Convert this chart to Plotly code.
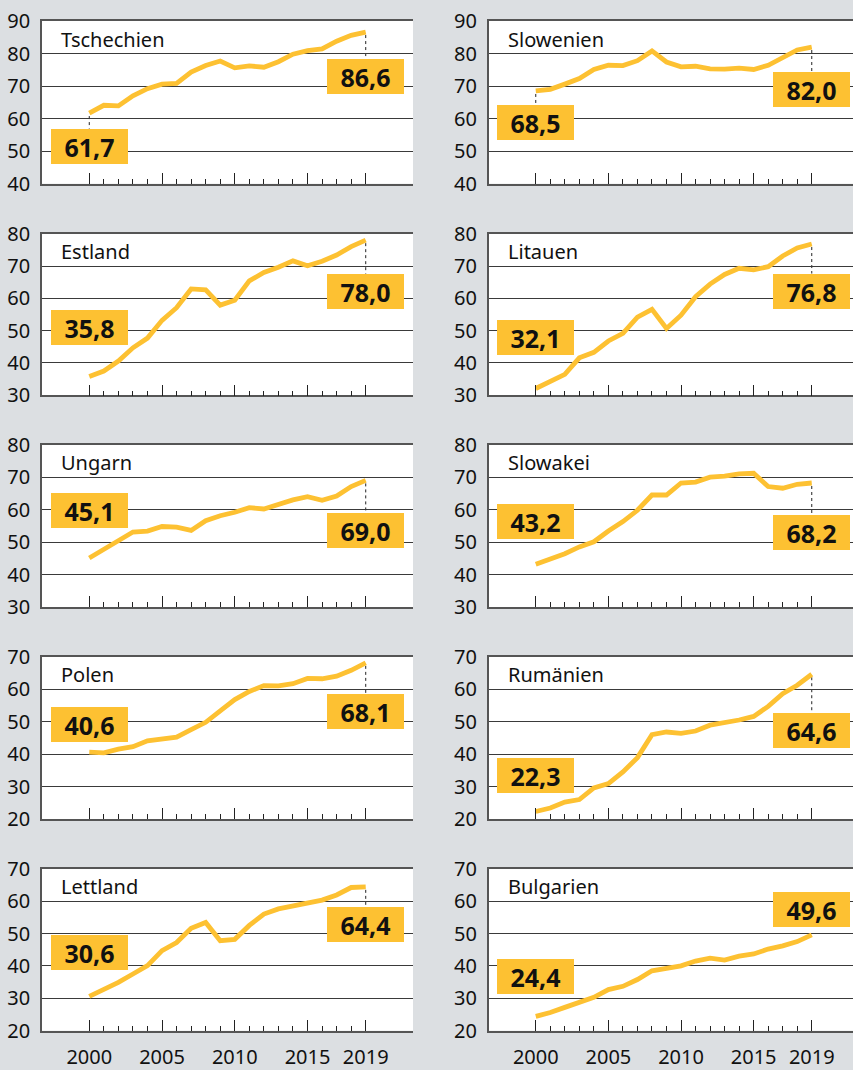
import plotly.graph_objects as go
from plotly.subplots import make_subplots

years = list(range(2000, 2020))

countries = ["Tschechien", "Slowenien", "Estland", "Litauen", "Ungarn",
             "Slowakei", "Polen", "Rumänien", "Lettland", "Bulgarien"]

tschechien = [61.7, 64.1, 63.9, 67.0, 69.2, 70.6, 70.8, 74.3, 76.3, 77.7, 75.6, 76.2, 75.8, 77.5, 79.8, 80.9, 81.4, 83.8, 85.6, 86.6]
slowenien = [68.5, 69.0, 70.6, 72.3, 75.1, 76.4, 76.3, 77.8, 80.8, 77.4, 75.9, 76.1, 75.3, 75.2, 75.5, 75.1, 76.4, 78.7, 81.1, 82.0]
estland = [35.8, 37.5, 40.6, 44.7, 47.7, 53.2, 57.1, 62.9, 62.6, 57.9, 59.4, 65.4, 68.0, 69.6, 71.6, 70.1, 71.5, 73.4, 76.0, 78.0]
litauen = [32.1, 34.4, 36.5, 41.6, 43.3, 46.8, 49.2, 54.2, 56.6, 50.7, 54.8, 60.5, 64.4, 67.4, 69.3, 68.8, 69.8, 73.1, 75.6, 76.8]
ungarn = [45.1, 47.8, 50.6, 53.1, 53.4, 54.8, 54.6, 53.6, 56.6, 58.1, 59.2, 60.6, 60.2, 61.6, 63.0, 64.0, 62.9, 64.2, 67.1, 69.0]
slowakei = [43.2, 44.8, 46.4, 48.5, 50.1, 53.4, 56.3, 59.8, 64.5, 64.5, 68.2, 68.5, 70.0, 70.3, 71.0, 71.2, 67.1, 66.6, 67.8, 68.2]
polen = [40.6, 40.4, 41.5, 42.3, 44.1, 44.6, 45.2, 47.5, 49.8, 53.3, 56.8, 59.3, 61.1, 61.0, 61.7, 63.3, 63.2, 64.0, 65.8, 68.1]
rumaenien = [22.3, 23.4, 25.2, 26.0, 29.6, 30.9, 34.5, 38.9, 46.0, 46.8, 46.4, 47.1, 48.9, 49.6, 50.5, 51.6, 54.7, 58.6, 61.2, 64.6]
lettland = [30.6, 32.6, 34.9, 37.5, 40.1, 44.7, 47.2, 51.6, 53.4, 47.8, 48.2, 52.5, 56.0, 57.6, 58.5, 59.6, 60.3, 61.9, 64.2, 64.4]
bulgarien = [24.4, 25.6, 27.2, 28.8, 30.3, 32.7, 33.7, 35.8, 38.5, 39.2, 40.0, 41.5, 42.4, 41.8, 43.0, 43.7, 45.2, 46.2, 47.5, 49.6]

series = [tschechien, slowenien, estland, litauen, ungarn,
          slowakei, polen, rumaenien, lettland, bulgarien]

y_min = [40, 40, 30, 30, 30, 30, 20, 20, 20, 20]
y_max = [90, 90, 80, 80, 80, 80, 70, 70, 70, 70]

major_ticks = [2000, 2005, 2010, 2015, 2019]
minor_ticks = [y for y in years if y not in major_ticks]

# layout / style (pixel offsets of the value boxes relative to the points; + = up)
start_shift = [-33, -32, 49, 51, 47, 43, 28, 36, 44, 40]
end_shift = [-44, -42, -51, -47, -50, -49, -49, -56, -38, 25]

W, H = 853, 1070
BG = "#DCDFE2"
YEL = "#FDC132"
GRID = "#3A3A3A"
AXIS = "#555555"
FONT = "Noto Sans"

x_dom = [[42 / W, 413 / W], [488.7 / W, 1.0]]
x_rng = [[1996.75, 2022.25], [1996.76, 2021.84]]
row_px = [(21, 183.7), (233.7, 395.3), (444.7, 607.0), (656.7, 819.0), (868.7, 1030.7)]

fig = make_subplots(rows=5, cols=2)

BOX_W, BOX_H = 77, 35

for i, (name, vals) in enumerate(zip(countries, series)):
    r, c = i // 2 + 1, i % 2 + 1
    fig.add_trace(go.Scatter(x=years, y=vals, mode="lines",
                             line=dict(color=YEL, width=4.8),
                             hoverinfo="skip", showlegend=False),
                  row=r, col=c)
    ax = "" if i == 0 else str(i + 1)
    xa = "xaxis" + ax
    ya = "yaxis" + ax
    top, bot = row_px[r - 1]
    fig.layout[xa].update(
        domain=x_dom[c - 1], range=x_rng[c - 1], automargin=False,
        showgrid=False, zeroline=False,
        showline=True, linecolor=AXIS, linewidth=1.5, mirror=True,
        tickmode="array", tickvals=major_ticks,
        ticktext=[str(t) for t in major_ticks],
        ticks="inside", ticklen=11, tickwidth=1.3, tickcolor="#222",
        showticklabels=(r == 5), ticklabelstandoff=8,
        tickfont=dict(family=FONT, size=20, color="#111"),
        minor=dict(tickvals=minor_ticks, ticks="inside", ticklen=5,
                   tickwidth=1.3, tickcolor="#222", showgrid=False),
        fixedrange=True,
    )
    fig.layout[ya].update(
        domain=[1 - bot / H, 1 - top / H], range=[y_min[i], y_max[i]],
        automargin=False,
        dtick=10, tick0=0, showgrid=True, gridcolor=GRID, gridwidth=1,
        zeroline=False, showline=True, linecolor=AXIS, linewidth=1.5,
        ticks="", ticklabelstandoff=6,
        tickfont=dict(family=FONT, size=20, color="#111"),
        fixedrange=True,
    )
    xref = "x" + ax
    yref = "y" + ax
    # country name
    fig.add_annotation(x=0, y=1, xref=xref + " domain", yref=yref + " domain",
                       xanchor="left", yanchor="middle", xshift=17, yshift=-18,
                       text=name, showarrow=False,
                       font=dict(family=FONT, size=20, color="#111"))
    # value boxes
    for yr, v, sh in ((years[0], vals[0], start_shift[i]), (years[-1], vals[-1], end_shift[i])):
        fig.add_annotation(x=yr, y=v, xref=xref, yref=yref,
                           xanchor="center", yanchor="middle", yshift=sh,
                           text="<b>" + f"{v:.1f}".replace(".", ",") + "</b>",
                           showarrow=False, width=BOX_W, height=BOX_H,
                           bgcolor=YEL, borderpad=0, borderwidth=0,
                           align="center", valign="middle",
                           font=dict(family=FONT, size=25, color="#111"))
        if sh < 0:
            fig.add_shape(type="line", xref=xref, yref=yref,
                          ysizemode="pixel", yanchor=v,
                          x0=yr, x1=yr, y0=-3, y1=sh + BOX_H / 2,
                          line=dict(color="#222", width=1, dash="3px,3px"),
                          layer="below")

fig.update_layout(
    width=W, height=H, margin=dict(l=0, r=0, t=0, b=0, autoexpand=False),
    paper_bgcolor=BG, plot_bgcolor="white",
    font=dict(family=FONT, color="#111"),
    showlegend=False, hovermode=False,
)

fig.write_html("out.html", config={"displayModeBar": False})
with open("out.html", "r", encoding="utf-8") as f:
    html = f.read()
html = html.replace("<head>", "<head><style>body{margin:0;padding:0;overflow:hidden}</style>", 1)
with open("out.html", "w", encoding="utf-8") as f:
    f.write(html)
